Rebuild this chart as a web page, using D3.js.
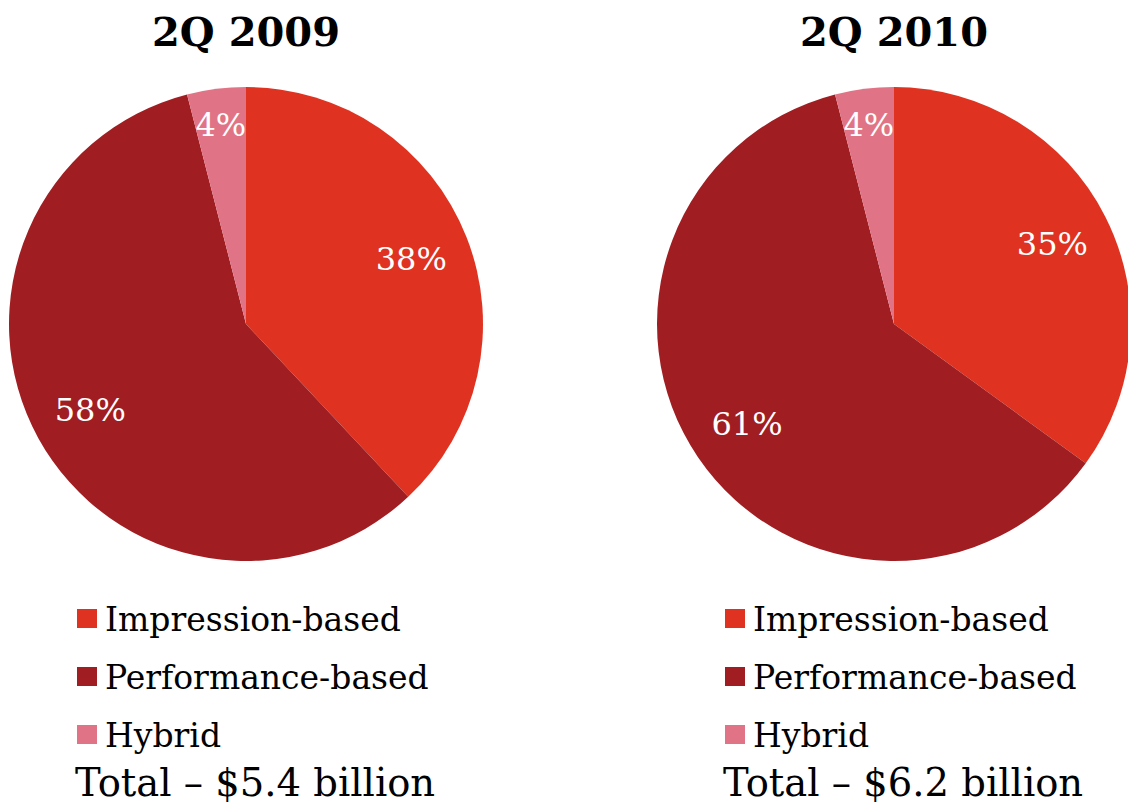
<!DOCTYPE html>
<html>
<head>
<meta charset="utf-8">
<script src="https://cdn.jsdelivr.net/npm/d3@7"></script>
<style>
  html, body { margin: 0; padding: 0; background: #fff; }
  svg { display: block; }
</style>
</head>
<body>
<svg id="chart" width="1128" height="804"></svg>
<script>
// Online ad revenue by pricing model
const periods = ["2Q 2009", "2Q 2010"];
const categories = ["Impression-based", "Performance-based", "Hybrid"];
const shares2009 = [38, 58, 4];
const shares2010 = [35, 61, 4];
const totals = ["Total \u2013 $5.4 billion", "Total \u2013 $6.2 billion"];
const colors = ["#e03220", "#a01e22", "#e07486"];

const series = [shares2009, shares2010];

const svg = d3.select("#chart");
const radius = 237;
const centers = [246, 894];
const cy = 324;

const color = d3.scaleOrdinal().domain(categories).range(colors);

const pie = d3.pie()
  .value(d => d.value)
  .sort(null)
  .startAngle(0)
  .endAngle(2 * Math.PI);

const arc = d3.arc().innerRadius(0).outerRadius(radius);
const labelArc = d3.arc().innerRadius(radius * 0.75).outerRadius(radius * 0.75);
const smallLabelArc = d3.arc().innerRadius(radius * 0.85).outerRadius(radius * 0.85);

const serif = "'DejaVu Serif', serif";

periods.forEach((period, i) => {
  const cx = centers[i];
  const data = categories.map((c, k) => ({ name: c, value: series[i][k] }));
  const arcs = pie(data);

  // Title
  svg.append("text")
    .attr("x", cx)
    .attr("y", 46)
    .attr("text-anchor", "middle")
    .attr("font-family", serif)
    .attr("font-weight", "bold")
    .attr("font-size", 40)
    .attr("fill", "#000")
    .text(period);

  const g = svg.append("g").attr("transform", `translate(${cx},${cy})`);

  g.selectAll("path")
    .data(arcs)
    .join("path")
    .attr("d", arc)
    .attr("fill", d => color(d.data.name));

  g.selectAll("text")
    .data(arcs)
    .join("text")
    .attr("transform", d => {
      const a = (d.endAngle - d.startAngle) < 0.3 ? smallLabelArc : labelArc;
      const [x, y] = a.centroid(d);
      return `translate(${x},${y})`;
    })
    .attr("text-anchor", "middle")
    .attr("dy", "0.36em")
    .attr("font-family", serif)
    .attr("font-size", 32)
    .attr("fill", "#fff")
    .text(d => d.data.value + "%");

  // Legend
  const lx = cx - 169;
  const legend = svg.append("g");
  const rows = [619, 677, 735];
  categories.forEach((c, k) => {
    legend.append("rect")
      .attr("x", lx)
      .attr("y", rows[k] - 10)
      .attr("width", 20)
      .attr("height", 19)
      .attr("fill", color(c));
    legend.append("text")
      .attr("x", lx + 28)
      .attr("y", rows[k] + 12)
      .attr("font-family", serif)
      .attr("font-size", 33)
      .attr("fill", "#000")
      .text(c);
  });

  svg.append("text")
    .attr("x", lx - 2)
    .attr("y", 796)
    .attr("font-family", serif)
    .attr("font-size", 38.5)
    .attr("fill", "#000")
    .text(totals[i]);
});
</script>
</body>
</html>
